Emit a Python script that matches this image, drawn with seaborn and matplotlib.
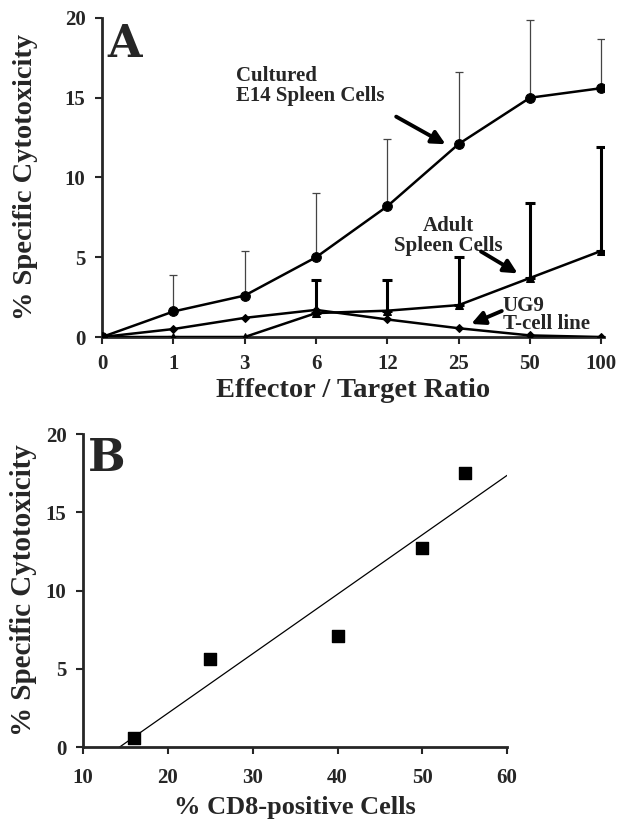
import numpy as np
import pandas as pd
import seaborn as sns
import matplotlib.pyplot as plt

# panel A: effector / target ratio
ratios = ['0', '1', '3', '6', '12', '25', '50', '100']
cultured = [0, 1.6, 2.6, 5.0, 8.2, 12.1, 15.0, 15.6]
cultured_err = [0, 2.3, 2.8, 4.0, 4.2, 4.5, 4.9, 3.1]
adult = [0, 0, 0, 1.5, 1.65, 2.0, 3.7, 5.4]
adult_err = [0, 0, 0, 2.1, 1.95, 3.0, 4.7, 6.5]
ug9 = [0, 0.5, 1.2, 1.7, 1.1, 0.55, 0.1, 0]

# panel B: % CD8-positive cells vs cytotoxicity
cd8 = [16, 25, 40, 50, 55]
cytotox = [0.6, 5.6, 7.1, 12.7, 17.5]

sns.set_style("ticks")
plt.rcParams['font.family'] = ['Liberation Serif', 'DejaVu Serif']
plt.rcParams['font.weight'] = 'bold'

fig = plt.figure(figsize=(6.3, 8.25), dpi=100)
axA = fig.add_axes([0.162, 0.5915, 0.797, 0.3867])
axB = fig.add_axes([0.132, 0.0945, 0.673, 0.3794])

pos = np.arange(len(ratios))
dfA = pd.DataFrame({'pos': pos, 'cultured': cultured, 'adult': adult, 'ug9': ug9})

# error bars (upper only)
axA.errorbar(pos, cultured, yerr=[np.zeros(len(pos)), cultured_err], fmt='none',
             ecolor='#444444', elinewidth=0.9, capsize=3, capthick=0.9, zorder=1)
axA.errorbar(pos, adult, yerr=[np.zeros(len(pos)), adult_err], fmt='none',
             ecolor='black', elinewidth=2.2, capsize=3.5, capthick=2.2, zorder=1)

sns.lineplot(data=dfA, x='pos', y='cultured', ax=axA, color='black', lw=1.8,
             marker='o', markersize=7, markeredgecolor='black', zorder=3)
sns.lineplot(data=dfA, x='pos', y='adult', ax=axA, color='black', lw=1.8,
             marker='^', markersize=6, markeredgecolor='black', zorder=3)
sns.lineplot(data=dfA, x='pos', y='ug9', ax=axA, color='black', lw=1.8,
             marker='D', markersize=4, markeredgecolor='black', zorder=3)

axA.set_xlim(0, 7.04)
axA.set_ylim(0, 20)
axA.set_xticks(pos)
axA.set_xticklabels(ratios)
axA.set_yticks([0, 5, 10, 15, 20])
axA.tick_params(axis='both', labelsize=15, width=1.5, length=5, pad=7)
axA.tick_params(axis='x', pad=7)
for lab in axA.get_xticklabels() + axA.get_yticklabels():
    lab.set_fontweight('bold')
axA.set_xlabel('Effector / Target Ratio', fontsize=20.5, fontweight='bold')
axA.set_ylabel('% Specific Cytotoxicity', fontsize=20.5, fontweight='bold')
axA.xaxis.set_label_coords(0.5, -0.13)
axA.yaxis.set_label_coords(-0.128, 0.5)
for s in ['left', 'bottom']:
    axA.spines[s].set_linewidth(2)
sns.despine(ax=axA)

axA.text(0.07, 19.7, 'A', fontsize=32, fontweight='bold', family='DejaVu Serif',
         va='top', ha='left')
axA.text(1.88, 17.0, 'Cultured\nE14 Spleen Cells', fontsize=15, fontweight='bold',
         va='top', ha='left', linespacing=1.0)
axA.annotate('', xy=(4.85, 12.0), xytext=(4.09, 13.9),
             arrowprops=dict(arrowstyle='-|>', lw=2.8, color='black', mutation_scale=20))
axA.text(4.86, 7.6, 'Adult\nSpleen Cells', fontsize=15, fontweight='bold',
         va='top', ha='center', linespacing=1.0)
axA.annotate('', xy=(5.86, 3.9), xytext=(5.28, 5.45),
             arrowprops=dict(arrowstyle='-|>', lw=2.8, color='black', mutation_scale=20))
axA.text(5.62, 2.55, 'UG9\nT-cell line', fontsize=15, fontweight='bold',
         va='top', ha='left', linespacing=0.85)
axA.annotate('', xy=(5.14, 0.75), xytext=(5.64, 1.7),
             arrowprops=dict(arrowstyle='-|>', lw=2.8, color='black', mutation_scale=20))

# panel B
dfB = pd.DataFrame({'cd8': cd8, 'cytotox': cytotox})
axB.set_xlim(10, 60)
axB.set_ylim(0, 20)
sns.regplot(data=dfB, x='cd8', y='cytotox', ax=axB, ci=None, truncate=False,
            marker='s', scatter_kws=dict(s=75, color='black', alpha=1, zorder=3),
            line_kws=dict(color='black', lw=0.9))
axB.set_xlim(10, 60)
axB.set_ylim(0, 20)
axB.set_xticks([10, 20, 30, 40, 50, 60])
axB.set_yticks([0, 5, 10, 15, 20])
axB.tick_params(axis='both', labelsize=15, width=1.5, length=5, pad=7)
axB.tick_params(axis='x', pad=10)
for lab in axB.get_xticklabels() + axB.get_yticklabels():
    lab.set_fontweight('bold')
axB.set_xlabel('% CD8-positive Cells', fontsize=19, fontweight='bold')
axB.set_ylabel('% Specific Cytotoxicity', fontsize=21, fontweight='bold')
axB.xaxis.set_label_coords(0.5, -0.158)
axB.yaxis.set_label_coords(-0.108, 0.5)
for s in ['left', 'bottom']:
    axB.spines[s].set_linewidth(2)
sns.despine(ax=axB)
axB.text(10.6, 19.8, 'B', fontsize=32, fontweight='bold', family='DejaVu Serif',
         va='top', ha='left')

fig.savefig('out.png', dpi=100)
